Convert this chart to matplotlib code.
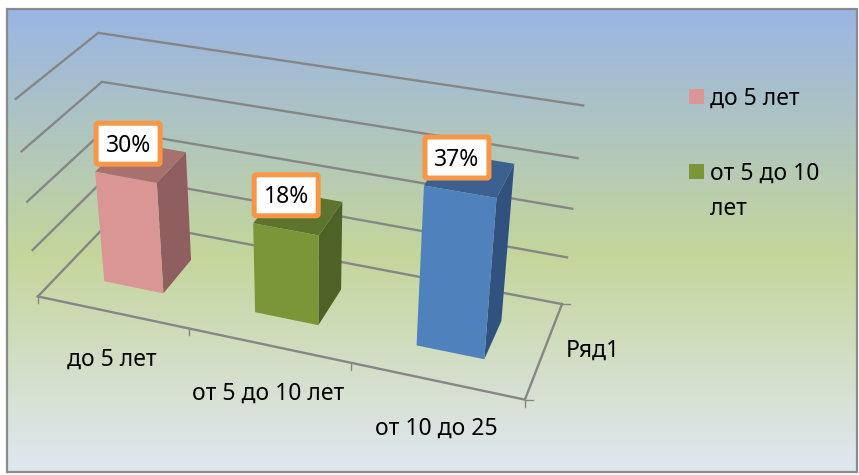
import numpy as np
import matplotlib
matplotlib.use('Agg')
import matplotlib.pyplot as plt
from matplotlib.colors import LinearSegmentedColormap
from matplotlib.patches import FancyBboxPatch, Polygon, Rectangle

plt.rcParams['font.family'] = ['Noto Sans', 'DejaVu Sans']

# data (bar heights on the 0-40 wall scale, labels as typed)
categories = ['до 5 лет', 'от 5 до 10 лет', 'от 10 до 25']
heights = [23.2, 18.6, 31.8]
labels = ['30%', '18%', '37%']
legend_labels = ['до 5 лет', 'от 5 до 10\nлет']
series_name = 'Ряд1'
levels = [0, 10, 20, 30, 40]

face_colors = ['#D99694', '#7B9639', '#4F81BD']
side_colors = ['#8E5F5E', '#4E6126', '#31527F']
top_colors = ['#A6716F', '#5C742D', '#3B608F']
line_color = '#868686'
font_size = 16.5

# (category, value, depth) -> picture position, camera fitted on the chart box
box_3d = np.array([[0, 0, 0], [3, 0, 0], [0, 0, 1], [3, 0, 1], [0, 40, 0],
                   [0, 40, 1], [3, 40, 1], [1, 0, 0], [2, 0, 0], [0, 10, 0],
                   [0, 20, 0], [0, 30, 0], [3, 10, 1], [3, 20, 1], [3, 30, 1]], float)
box_px = np.array([[38, 296], [525, 399], [113, 218], [562, 304], [16, 99],
                   [98, 33], [583, 105], [189, 329], [351, 363], [32, 250],
                   [27, 202], [22, 151], [567, 258], [572, 209], [578, 158]], float)
rows = []
for (a, b, c), (u, v) in zip(box_3d, box_px / 500):
    p = [a, b / 40, c, 1]
    rows.append(p + [0, 0, 0, 0] + [-u * q for q in p])
    rows.append([0, 0, 0, 0] + p + [-v * q for q in p])
cam = np.linalg.svd(np.array(rows))[2][-1].reshape(3, 4)


def proj(x, val, d):
    h = cam @ np.array([x, val / 40, d, 1.0])
    return h[0] / h[2] * 500, h[1] / h[2] * 500


fig = plt.figure(figsize=(8.59, 4.75), dpi=100)
ax = fig.add_axes([0, 0, 1, 1])

# background gradient inside the frame
cmap = LinearSegmentedColormap.from_list('bg', [(0, '#9AB5E4'), (0.53, '#C4D69B'), (1, '#E0E7F1')])
ax.imshow(np.linspace(0, 1, 256).reshape(-1, 1), cmap=cmap, aspect='auto',
          extent=(7, 857, 472, 9), zorder=0)
ax.add_patch(Rectangle((7, 9), 850, 463, fill=False, ec='#8C8C8C', lw=1.6, zorder=1))
ax.set_xlim(0, 859)
ax.set_ylim(475, 0)
ax.axis('off')

# walls and floor
for lv in levels:
    pts = [proj(0, lv, 0), proj(0, lv, 1), proj(3, lv, 1)]
    ax.plot(*zip(*pts), color=line_color, lw=1.7, solid_joinstyle='miter', zorder=2)
ax.plot(*zip(proj(0, 0, 0), proj(3, 0, 0), proj(3, 0, 1)), color=line_color, lw=1.7, zorder=2)
for i in range(4):
    x0, y0 = proj(i, 0, 0)
    ax.plot([x0, x0], [y0, y0 + 7], color=line_color, lw=1, zorder=2)
for d in [0, 1]:
    x0, y0 = proj(3, 0, d)
    ax.plot([x0, x0 + 8], [y0, y0], color=line_color, lw=1, zorder=2)

# bars
x_off, x_w = 0.30, 0.40
d0, d1 = 0.29, 0.70
for i, h in enumerate(heights):
    xa, xb = i + x_off, i + x_off + x_w
    front = [proj(xa, 0, d0), proj(xb, 0, d0), proj(xb, h, d0), proj(xa, h, d0)]
    side = [proj(xb, 0, d0), proj(xb, 0, d1), proj(xb, h, d1), proj(xb, h, d0)]
    top = [proj(xa, h, d0), proj(xb, h, d0), proj(xb, h, d1), proj(xa, h, d1)]
    ax.add_patch(Polygon(side, fc=side_colors[i], ec='none', zorder=3))
    ax.add_patch(Polygon(top, fc=top_colors[i], ec='none', zorder=3))
    ax.add_patch(Polygon(front, fc=face_colors[i], ec='none', zorder=3))
    # value label sits above the top front edge
    lx, ly = proj(xa, h, d0)
    lx, ly = lx + 33, ly - 28
    ax.add_patch(FancyBboxPatch((lx - 32, ly - 20.5), 64, 41, boxstyle='round,pad=0,rounding_size=2',
                                fc='white', ec='#F79646', lw=3.6, zorder=5))
    ax.text(lx, ly + 2, labels[i], fontsize=font_size, ha='center', va='center', zorder=6)

# category and depth axis labels
for i, cat in enumerate(categories):
    x0, y0 = proj(i + 0.5, 0, 0)
    ax.text(x0, y0 + 48, cat, fontsize=font_size, ha='center', va='center', color='black', zorder=4)
ax.text(566, 351, series_name, fontsize=font_size, ha='left', va='center', zorder=4)

# legend
for y0, lab, col in zip([89, 164], legend_labels, face_colors):
    ax.add_patch(Rectangle((689, y0), 15, 15, fc=col, ec='none', zorder=4))
    ax.text(710, y0 - 2, lab, fontsize=font_size, ha='left', va='top', linespacing=1.6, zorder=4)

fig.savefig('out.png', dpi=100)
